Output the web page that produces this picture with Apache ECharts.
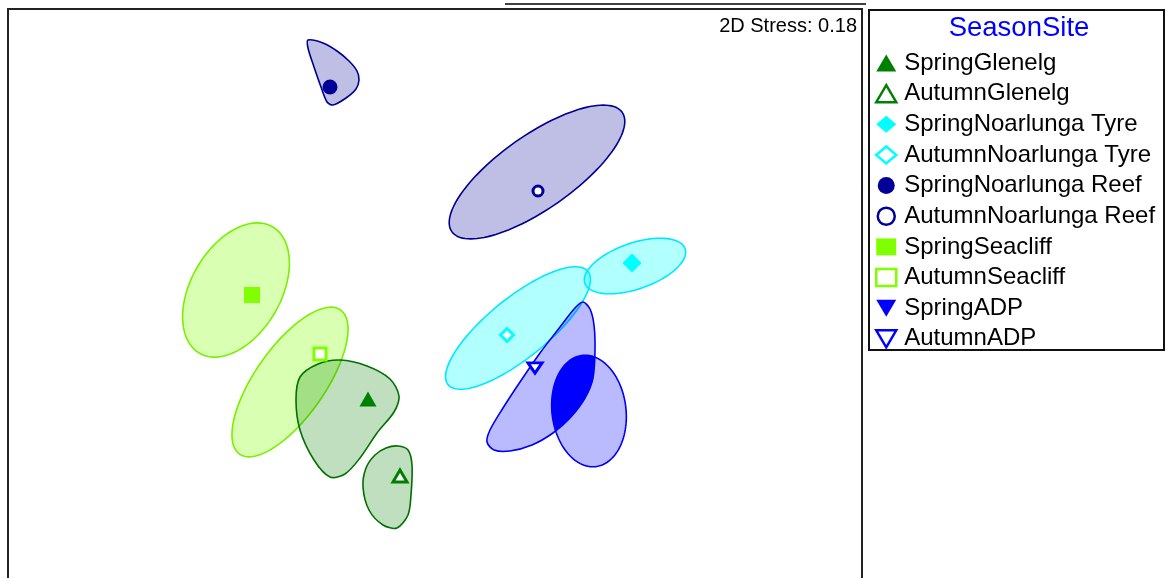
<!DOCTYPE html>
<html>
<head>
<meta charset="utf-8">
<script src="https://cdn.jsdelivr.net/npm/echarts@6/dist/echarts.min.js"></script>
<style>
  html, body { margin: 0; padding: 0; background: #fff; }
  #chart { width: 1168px; height: 578px; }
</style>
</head>
<body>
<div id="chart"></div>
<script>
'use strict';

// groups (season + site) and their centroids
var groupNames = ['SpringGlenelg', 'AutumnGlenelg', 'SpringNoarlunga Tyre', 'AutumnNoarlunga Tyre',
    'SpringNoarlunga Reef', 'AutumnNoarlunga Reef', 'SpringSeacliff', 'AutumnSeacliff', 'SpringADP', 'AutumnADP'];
var centroidX = [368, 400, 632, 507, 330, 538, 252, 320, 578, 535];
var centroidY = [399, 476, 263, 335, 87, 191, 295, 354, 385, 368];

// ellipse regions (centre, semi axes, tilt in degrees); null = irregular outline below
var ellipseCx = [null, null, 635, 518, null, 537, 236, 290, 589, null];
var ellipseCy = [null, null, 266, 328, null, 172, 290, 382, 411, null];
var ellipseA = [null, null, 53, 90, null, 104, 73, 88, 56, null];
var ellipseB = [null, null, 23, 30, null, 37, 45, 35, 37, null];
var ellipseAngle = [null, null, 19, 39, null, 35, 60, 55, 97, null];

// irregular regions
var springGlenelgOutline = [[340, 360], [367, 366], [390, 379], [399, 396], [394, 412], [377, 433], [360, 458],
    [345, 474], [330, 477], [314, 460], [300, 430], [296, 400], [300, 377], [318, 364]];
var autumnGlenelgOutline = [[398, 446], [408, 450], [412, 465], [411, 495], [408, 515], [397, 528], [383, 525],
    [369, 510], [363, 487], [366, 468], [375, 455], [386, 448]];
var springReefOutline = [[308, 40], [323, 43], [337, 51], [349, 61], [357, 71], [359, 80], [356, 89], [346, 98],
    [333, 105], [327, 102], [321, 87], [313, 64], [308, 48]];
var autumnAdpOutline = [[583, 302], [590, 309], [594, 325], [595, 350], [593, 378], [585, 398], [570, 418],
    [553, 433], [532, 445], [510, 451], [494, 450], [487, 442], [490, 430], [503, 408], [520, 382], [540, 353],
    [560, 327], [575, 308]];

var stressText = '2D Stress: 0.18';
var legendTitle = 'SeasonSite';

// styles
var FONT = 'Liberation Sans, Arial, Helvetica, sans-serif';
var DOWN_TRI = 'path://M0,0L20,0L10,17Z';
var groupColors = ['#008000', '#008000', '#00ffff', '#00ffff', '#000099', '#000099', '#80ff00', '#80ff00', '#0000ff', '#0000ff'];
var lineColors = ['#007000', '#007000', '#00e8ff', '#00e8ff', '#000090', '#000090', '#78f000', '#78f000', '#0000f0', '#0000f0'];
var regionFills = ['rgba(0,128,0,0.25)', 'rgba(0,128,0,0.25)', 'rgba(0,255,255,0.3)', 'rgba(0,255,255,0.3)',
    'rgba(0,0,153,0.25)', 'rgba(0,0,153,0.25)', 'rgba(128,255,0,0.3)', 'rgba(128,255,0,0.3)',
    'rgba(0,0,255,0.27)', 'rgba(0,0,255,0.27)'];
var markerShapes = ['triangle', 'triangle', 'diamond', 'diamond', 'circle', 'circle', 'rect', 'rect', DOWN_TRI, DOWN_TRI];
var markerSizes = [[17, 15], [14, 12], 19, 13, 15, 10, 16, 12, [17, 15], [14, 12]];
var regionOrder = [4, 5, 6, 7, 0, 1, 3, 2, 9, 8];
var outlines = { 0: springGlenelgOutline, 1: autumnGlenelgOutline, 4: springReefOutline, 9: autumnAdpOutline };

function ellipsePoints(i) {
    var pts = [], th = ellipseAngle[i] * Math.PI / 180;
    for (var k = 0; k < 120; k++) {
        var t = k / 120 * 2 * Math.PI;
        var u = ellipseA[i] * Math.cos(t), v = ellipseB[i] * Math.sin(t);
        pts.push([ellipseCx[i] + u * Math.cos(th) - v * Math.sin(th),
                  ellipseCy[i] - (u * Math.sin(th) + v * Math.cos(th))]);
    }
    return pts;
}
function regionPoints(i) {
    return outlines[i] || ellipsePoints(i);
}

// overlap of a region with a convex region (Sutherland-Hodgman)
function clipPolygon(subject, clip) {
    var area = 0;
    for (var k = 0; k < clip.length; k++) {
        var p = clip[k], q = clip[(k + 1) % clip.length];
        area += p[0] * q[1] - q[0] * p[1];
    }
    var sgn = area > 0 ? 1 : -1;
    var out = subject;
    for (var i = 0; i < clip.length; i++) {
        var a = clip[i], b = clip[(i + 1) % clip.length];
        var side = function (p) {
            return (b[0] - a[0]) * (p[1] - a[1]) - (b[1] - a[1]) * (p[0] - a[0]);
        };
        var inp = out;
        out = [];
        for (var j = 0; j < inp.length; j++) {
            var cur = inp[j], prev = inp[(j + inp.length - 1) % inp.length];
            var dc = side(cur), dp = side(prev);
            var ci = sgn * dc >= 0, pi = sgn * dp >= 0;
            if (ci !== pi) {
                var t = dp / (dp - dc);
                out.push([prev[0] + t * (cur[0] - prev[0]), prev[1] + t * (cur[1] - prev[1])]);
            }
            if (ci) out.push(cur);
        }
    }
    return out;
}

var chart = echarts.init(document.getElementById('chart'), null, { renderer: 'canvas' });

var series = [{
    type: 'custom',
    name: 'regions',
    coordinateSystem: 'cartesian2d',
    silent: true,
    z: 1,
    encode: { x: 0, y: 1 },
    data: regionOrder.map(function (i) { return [centroidX[i], centroidY[i], i]; }),
    renderItem: function (params, api) {
        var i = api.value(2);
        var pts = regionPoints(i).map(function (p) { return api.coord(p); });
        return {
            type: 'polygon',
            shape: { points: pts, smooth: outlines[i] ? 0.3 : 0 },
            style: { fill: regionFills[i], stroke: lineColors[i], lineWidth: 1.6 }
        };
    }
}, {
    type: 'custom',
    name: 'overlap',
    coordinateSystem: 'cartesian2d',
    silent: true,
    z: 2,
    encode: { x: 0, y: 1 },
    data: [[centroidX[8], centroidY[8]]],
    renderItem: function (params, api) {
        var pts = clipPolygon(regionPoints(9), regionPoints(8)).map(function (p) { return api.coord(p); });
        return { type: 'polygon', shape: { points: pts, smooth: 0.2 }, style: { fill: '#0000ff' } };
    }
}];

groupNames.forEach(function (name, i) {
    var open = i % 2 === 1;
    series.push({
        type: 'scatter',
        name: name,
        z: 5,
        symbol: markerShapes[i],
        symbolSize: markerSizes[i],
        symbolKeepAspect: true,
        silent: true,
        itemStyle: open
            ? { color: '#ffffff', borderColor: groupColors[i], borderWidth: 3, opacity: 1 }
            : { color: groupColors[i], opacity: 1 },
        data: [[centroidX[i], centroidY[i]]]
    });
});

chart.setOption({
    animation: false,
    backgroundColor: '#ffffff',
    grid: { left: 8, top: 9, width: 854, height: 569, show: false },
    xAxis: { type: 'value', min: 8, max: 862, show: false },
    yAxis: { type: 'value', min: 9, max: 578, inverse: true, show: false },
    legend: {
        orient: 'vertical',
        left: 875,
        top: 51,
        padding: 0,
        itemWidth: 20,
        itemHeight: 17,
        itemGap: 6.65,
        selectedMode: false,
        textStyle: { fontSize: 24, fontFamily: FONT, color: '#000', padding: [0, 0, 0, 3] },
        data: groupNames.map(function (name, i) {
            return i % 2 === 1 ? { name: name, itemStyle: { borderWidth: 2.5 } } : { name: name };
        })
    },
    graphic: [
        // plot frame: left, top and right edges (bottom runs off the picture)
        { type: 'polyline', shape: { points: [[8, 590], [8, 9], [862, 9], [862, 590]] }, style: { fill: 'none', stroke: '#222', lineWidth: 2 } },
        { type: 'line', shape: { x1: 505, y1: 4, x2: 866, y2: 4 }, style: { stroke: '#000', lineWidth: 1.5 } },
        { type: 'rect', shape: { x: 869, y: 10, width: 295, height: 340 }, style: { fill: 'none', stroke: '#111', lineWidth: 2 } },
        { type: 'text', x: 1019, y: 28, style: { text: legendTitle, fill: '#0000ff', font: '27.5px ' + FONT, align: 'center', verticalAlign: 'middle' } },
        { type: 'text', x: 857, y: 26, style: { text: stressText, fill: '#000', font: '20px ' + FONT, align: 'right', verticalAlign: 'middle' } }
    ],
    series: series
});
</script>
</body>
</html>
